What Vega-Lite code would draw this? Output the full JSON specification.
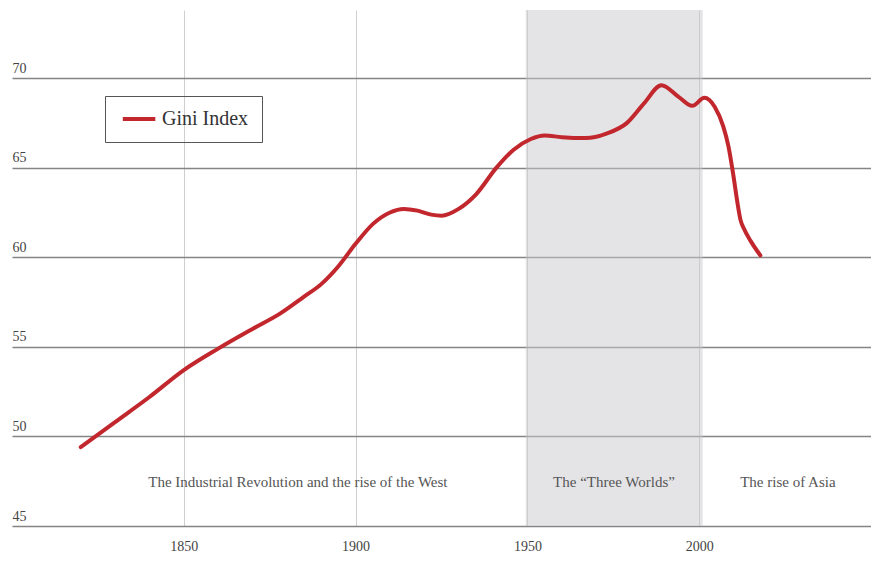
{
  "$schema": "https://vega.github.io/schema/vega-lite/v6.json",
  "width": 859,
  "height": 516,
  "autosize": {"type": "none"},
  "padding": {"left": 12, "top": 10, "right": 0, "bottom": 62},
  "background": "white",
  "config": {
    "view": {"stroke": null},
    "font": "Liberation Serif"
  },
  "datasets": {
    "gini": [
      {"year": 1820, "value": 49.4, "series": "Gini Index"},
      {"year": 1830, "value": 50.8, "series": "Gini Index"},
      {"year": 1840, "value": 52.2, "series": "Gini Index"},
      {"year": 1850, "value": 53.7, "series": "Gini Index"},
      {"year": 1860, "value": 54.9, "series": "Gini Index"},
      {"year": 1870, "value": 56.0, "series": "Gini Index"},
      {"year": 1878, "value": 56.85, "series": "Gini Index"},
      {"year": 1885, "value": 57.8, "series": "Gini Index"},
      {"year": 1890, "value": 58.5, "series": "Gini Index"},
      {"year": 1895, "value": 59.5, "series": "Gini Index"},
      {"year": 1900, "value": 60.75, "series": "Gini Index"},
      {"year": 1905, "value": 61.85, "series": "Gini Index"},
      {"year": 1910, "value": 62.5, "series": "Gini Index"},
      {"year": 1914, "value": 62.7, "series": "Gini Index"},
      {"year": 1918, "value": 62.6, "series": "Gini Index"},
      {"year": 1922, "value": 62.38, "series": "Gini Index"},
      {"year": 1925, "value": 62.32, "series": "Gini Index"},
      {"year": 1930, "value": 62.7, "series": "Gini Index"},
      {"year": 1935, "value": 63.5, "series": "Gini Index"},
      {"year": 1941, "value": 65.0, "series": "Gini Index"},
      {"year": 1946, "value": 66.0, "series": "Gini Index"},
      {"year": 1951, "value": 66.6, "series": "Gini Index"},
      {"year": 1955, "value": 66.8, "series": "Gini Index"},
      {"year": 1960, "value": 66.7, "series": "Gini Index"},
      {"year": 1967, "value": 66.65, "series": "Gini Index"},
      {"year": 1973, "value": 66.9, "series": "Gini Index"},
      {"year": 1979, "value": 67.5, "series": "Gini Index"},
      {"year": 1984, "value": 68.6, "series": "Gini Index"},
      {"year": 1989, "value": 69.6, "series": "Gini Index"},
      {"year": 1994, "value": 68.95, "series": "Gini Index"},
      {"year": 1998, "value": 68.45, "series": "Gini Index"},
      {"year": 2001.5, "value": 68.9, "series": "Gini Index"},
      {"year": 2004.5, "value": 68.4, "series": "Gini Index"},
      {"year": 2007, "value": 67.3, "series": "Gini Index"},
      {"year": 2008.5, "value": 66.2, "series": "Gini Index"},
      {"year": 2010, "value": 64.5, "series": "Gini Index"},
      {"year": 2011, "value": 63.2, "series": "Gini Index"},
      {"year": 2012, "value": 62.1, "series": "Gini Index"},
      {"year": 2013, "value": 61.6, "series": "Gini Index"},
      {"year": 2015, "value": 60.9, "series": "Gini Index"},
      {"year": 2017.8, "value": 60.1, "series": "Gini Index"}
    ],
    "eras": [
      {"label": "The Industrial Revolution and the rise of the West", "mid": 1883.2, "y": 47.45},
      {"label": "The “Three Worlds”", "mid": 1975.2, "y": 47.45},
      {"label": "The rise of Asia", "mid": 2025.8, "y": 47.45}
    ],
    "shade": [
      {"start": 1949.5, "end": 2001}
    ]
  },
  "layer": [
    {
      "data": {"name": "shade"},
      "mark": {"type": "rect", "color": "#c9c9d0", "opacity": 0.5},
      "encoding": {
        "x": {
          "field": "start", "type": "quantitative",
          "scale": {"domain": [1800, 2050], "nice": false, "zero": false},
          "axis": {
            "values": [1850, 1900, 1950, 2000],
            "format": "d",
            "title": null,
            "domain": false,
            "ticks": false,
            "tickSize": 0,
            "labelPadding": 13,
            "labelFont": "Liberation Serif",
            "labelFontSize": 14,
            "labelColor": "#444",
            "grid": true,
            "gridColor": "#cfcfcf",
            "gridWidth": 1
          }
        },
        "x2": {"field": "end"}
      }
    },
    {
      "data": {"name": "gini"},
      "mark": {"type": "line", "interpolate": "monotone", "strokeWidth": 4, "strokeCap": "round"},
      "encoding": {
        "x": {"field": "year", "type": "quantitative"},
        "y": {
          "field": "value", "type": "quantitative",
          "scale": {"domain": [45, 73.8], "nice": false, "zero": false},
          "axis": {
            "values": [45, 50, 55, 60, 65, 70],
            "title": null,
            "domain": false,
            "ticks": false,
            "tickSize": 0,
            "labelAlign": "left",
            "labelBaseline": "alphabetic",
            "labelPadding": 0,
            "labelOffset": -6,
            "labelFont": "Liberation Serif",
            "labelFontSize": 14,
            "labelColor": "#444",
            "grid": true,
            "gridColor": "#858585",
            "gridWidth": 1.6
          }
        },
        "color": {
          "field": "series", "type": "nominal",
          "scale": {"range": ["#c1272d"]},
          "legend": {
            "title": null,
            "orient": "none",
            "legendX": 93,
            "legendY": 86,
            "strokeColor": "#555",
            "padding": 13,
            "symbolType": "M-0.8,0H4.2",
            "symbolStrokeWidth": 4,
            "symbolSize": 169,
            "labelFont": "Liberation Serif",
            "labelFontSize": 20,
            "labelColor": "#333",
            "labelOffset": 24
          }
        }
      }
    },
    {
      "data": {"name": "eras"},
      "mark": {"type": "text", "font": "Liberation Serif", "fontSize": 15, "color": "#555", "align": "center", "baseline": "middle"},
      "encoding": {
        "x": {"field": "mid", "type": "quantitative"},
        "y": {"field": "y", "type": "quantitative"},
        "text": {"field": "label", "type": "nominal"}
      }
    }
  ]
}
